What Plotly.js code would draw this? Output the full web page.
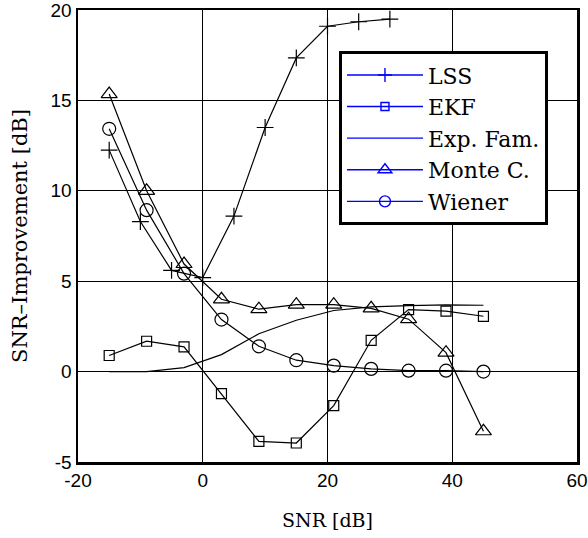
<!DOCTYPE html>
<html><head><meta charset="utf-8">
<script src="https://cdn.plot.ly/plotly-3.0.1.min.js"></script>
<style>html,body{margin:0;padding:0;background:#fff}#plot{width:588px;height:538px}</style>
</head><body><div id="plot"></div>
<script>
const lssX = [-15, -10, -5, 0, 5, 10, 15, 20, 25, 30];
const lssY = [12.25, 8.3, 5.6, 5.2, 8.6, 13.5, 17.35, 19.1, 19.35, 19.5];
const gridX = [-15, -9, -3, 3, 9, 15, 21, 27, 33, 39, 45];
const ekfY = [0.89, 1.68, 1.37, -1.22, -3.86, -3.95, -1.88, 1.73, 3.43, 3.34, 3.06];
const expY = [0, 0, 0.22, 0.94, 2.09, 2.84, 3.38, 3.58, 3.65, 3.69, 3.67];
const monteY = [15.35, 10.0, 5.95, 4.0, 3.45, 3.7, 3.7, 3.5, 2.9, 1.05, -3.3];
const wienerY = [13.43, 8.93, 5.42, 2.88, 1.4, 0.63, 0.33, 0.15, 0.05, 0.05, 0.0];
const names = ['LSS', 'EKF', 'Exp. Fam.', 'Monte C.', 'Wiener'];
const symbols = ['cross-thin-open', 'square-open', null, 'triangle-up-open', 'circle-open'];
const sizes = [12, 10, 0, 14, 13];
const xs = [lssX, gridX, gridX, gridX, gridX];
const ys = [lssY, ekfY, expY, monteY, wienerY];
const xTicks = [-20, 0, 20, 40, 60];
const yTicks = [-5, 0, 5, 10, 15, 20];
const sans = 'Liberation Sans';
const serif = 'DejaVu Serif';

function mk(i, x, y, color, lw, legend, sizeAdj) {
  const t = {
    x: x, y: y, type: 'scatter',
    mode: symbols[i] ? 'lines+markers' : 'lines',
    line: {color: color, width: lw}
  };
  if (legend) { t.name = names[i]; } else { t.showlegend = false; }
  if (symbols[i]) {
    t.marker = {symbol: symbols[i], size: sizes[i] + sizeAdj, color: color, line: {color: color, width: lw}};
  }
  return t;
}
const traces = [];
for (let i = 0; i < names.length; i++) traces.push(mk(i, xs[i], ys[i], '#000', 1.2, false, 0));
for (let i = 0; i < names.length; i++) traces.push(mk(i, [null], [null], '#0000ff', 1.4, true, -2));

const layout = {
  width: 588, height: 538,
  margin: {l: 78, r: 11, t: 10, b: 76},
  paper_bgcolor: '#fff', plot_bgcolor: '#fff',
  showlegend: true,
  legend: {
    x: 0.523, y: 0.909, xanchor: 'left', yanchor: 'top',
    bgcolor: '#fff', bordercolor: '#000', borderwidth: 3,
    font: {family: serif, size: 22, color: '#000'},
    itemwidth: 76
  },
  xaxis: {
    range: [-20, 60], tickvals: xTicks, ticktext: xTicks.map(String),
    showgrid: true, gridcolor: '#000', gridwidth: 1.2,
    showline: true, linecolor: '#000', linewidth: 2.5, mirror: true,
    zeroline: false, ticks: '', ticklabeloverflow: 'allow',
    tickfont: {family: sans, size: 19, color: '#000'},
    title: {text: 'SNR [dB]', font: {family: serif, size: 19, color: '#000'}, standoff: 24}
  },
  yaxis: {
    range: [-5, 20], tickvals: yTicks, ticktext: yTicks.map(String),
    showgrid: true, gridcolor: '#000', gridwidth: 1.2,
    showline: true, linecolor: '#000', linewidth: 2.5, mirror: true,
    zeroline: false, ticks: '', ticklabeloverflow: 'allow',
    tickfont: {family: sans, size: 19, color: '#000'},
    title: {text: 'SNR–Improvement [dB]', font: {family: serif, size: 21, color: '#000'}, standoff: 17}
  }
};
Plotly.newPlot('plot', traces, layout, {displayModeBar: false, staticPlot: true});
</script>
</body></html>
